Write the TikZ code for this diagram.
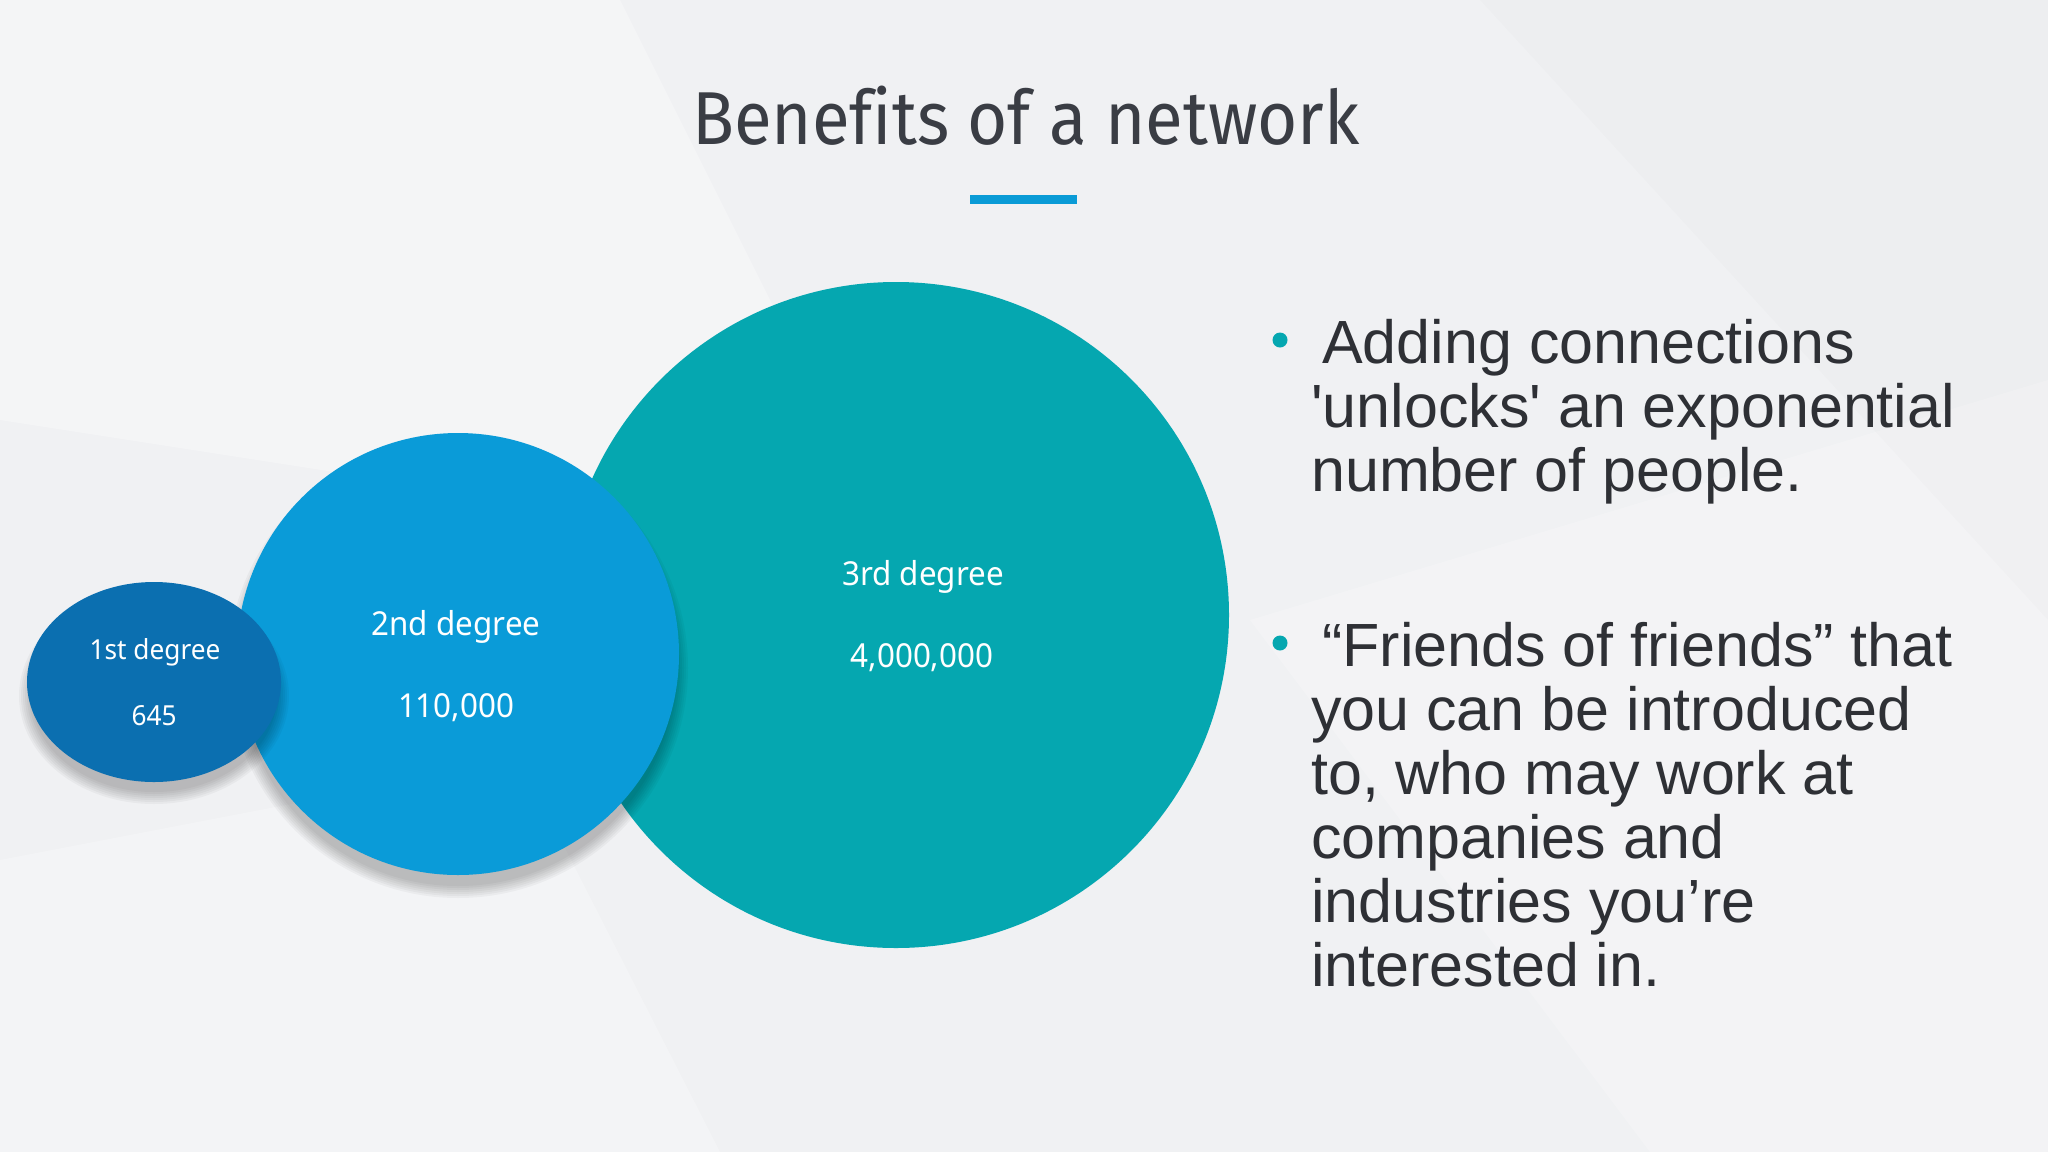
\documentclass[tikz,border=0pt]{standalone}
\usepackage{fontspec}
\setmainfont{Liberation Sans}
\newfontfamily\titlefont{Fira Sans}[FakeStretch=0.92, Ligatures=NoCommon]
\newfontfamily\labelfont{Noto Sans}[FakeStretch=0.95]
\usetikzlibrary{positioning}

\definecolor{bgcol}{HTML}{F0F1F3}
\definecolor{titlecol}{HTML}{3A3D44}
\definecolor{textcol}{HTML}{2E3035}
\definecolor{barblue}{HTML}{0A9BD6}
\definecolor{firstblue}{HTML}{0B6FB0}
\definecolor{secondblue}{HTML}{0A9BD8}
\definecolor{thirdteal}{HTML}{05A7B0}

\tikzset{
  bubbletext/.style={text=white, inner sep=0pt, anchor=base},
  bullettext/.style={text=textcol, inner sep=0pt, anchor=base west, font=\fontsize{61}{64}\selectfont},
  bulletdot/.style={circle, fill=thirdteal, inner sep=0pt, minimum size=15pt},
}

\begin{document}
\begin{tikzpicture}[x=1pt,y=-1pt]
\useasboundingbox (0,0) rectangle (2048,1152);
% background
\fill[bgcol] (0,0) rectangle (2048,1152);
\fill[white, opacity=0.3] (0,0) -- (620,0) -- (900,560) -- (0,420) -- cycle;
\fill[white, opacity=0.25] (0,860) -- (520,760) -- (720,1152) -- (0,1152) -- cycle;
\fill[white, opacity=0.2] (1250,620) -- (2048,380) -- (2048,1152) -- (1650,1152) -- cycle;
\fill[black, opacity=0.01] (1480,0) -- (2048,0) -- (2048,620) -- cycle;

% title
\node[font=\titlefont\fontsize{75}{80}\selectfont, text=titlecol, anchor=base] (title) at (1026,144) {Benefits of a network};
\node[fill=barblue, minimum width=107pt, minimum height=9pt, inner sep=0pt] (bar) at (1023.5,199.5) {};

% 3rd degree
\fill[thirdteal] (896,615) circle (333);

% 2nd degree
\foreach \k in {0,...,6}
  \fill[black, opacity=0.035] (458,668) circle (230-2*\k);
\fill[secondblue] (458,654) circle (221);

% 1st degree
\foreach \k in {0,...,6}
  \fill[black, opacity=0.035] (154,696) ellipse ({135-2*\k} and {108-2*\k});
\fill[firstblue] (154,682) ellipse (127 and 100);

\node[bubbletext, font=\labelfont\fontsize{27.6}{30}\selectfont] (deg1) at (155,659) {1st degree};
\node[bubbletext, font=\labelfont\fontsize{27.6}{30}\selectfont] (num1) at (154,725) {645};
\node[bubbletext, font=\labelfont\fontsize{33}{36}\selectfont] (deg2) at (456,635) {2nd degree};
\node[bubbletext, font=\labelfont\fontsize{33}{36}\selectfont] (num2) at (456,717) {110,000};
\node[bubbletext, font=\labelfont\fontsize{33}{36}\selectfont] (deg3) at (923,585) {3rd degree};
\node[bubbletext, font=\labelfont\fontsize{33}{36}\selectfont] (num3) at (922,667) {4,000,000};

% bullets
\node[bulletdot] (dota) at (1280,340) {};
\node[bullettext] (pa) at (1322,363) {Adding connections};
\foreach \ln [count=\i from 1] in {{\textquotesingle unlocks\textquotesingle{} an exponential}, {number of people.}}
  \node[bullettext] (pa\i) at (1311,363+64*\i) {\ln};

\node[bulletdot] (dotb) at (1280,643) {};
\node[bullettext] (pb) at (1322,666) {“Friends of friends” that};
\foreach \ln [count=\i from 1] in {{you can be introduced}, {to, who may work at}, {companies and}, {industries you’re}, {interested in.}}
  \node[bullettext] (pb\i) at (1311,666+64*\i) {\ln};
\end{tikzpicture}
\end{document}
